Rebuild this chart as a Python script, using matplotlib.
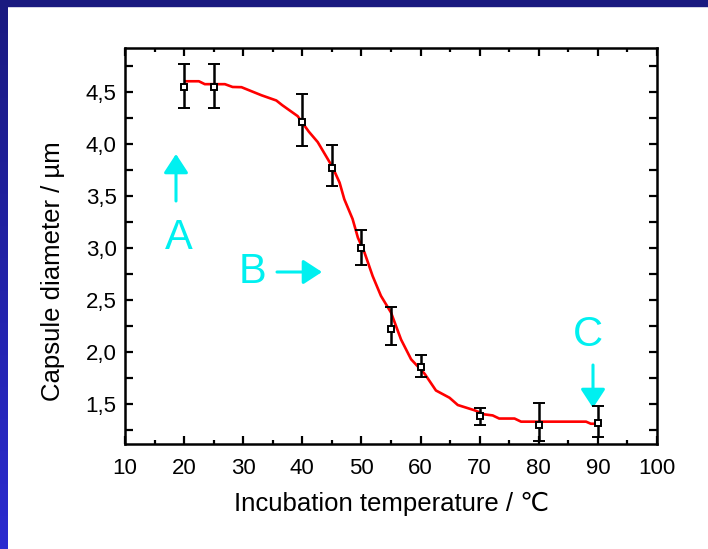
import numpy as np
import matplotlib
matplotlib.use("Agg")
import matplotlib.pyplot as plt
from matplotlib.patches import Rectangle
from matplotlib.colors import LinearSegmentedColormap

plt.rcParams['font.family'] = ['Liberation Sans', 'DejaVu Sans']

# measured points with error bars
temps = [20, 25, 40, 45, 50, 55, 60, 70, 80, 90]
diam = [4.55, 4.55, 4.215, 3.77, 3.00, 2.22, 1.86, 1.38, 1.30, 1.32]
diam_low = [4.344, 4.344, 3.986, 3.60, 2.84, 2.07, 1.76, 1.30, 1.14, 1.18]
diam_high = [4.775, 4.775, 4.478, 3.99, 3.17, 2.43, 1.97, 1.46, 1.51, 1.48]

# red fitted curve
curve_x = [20.3, 22.5, 23.5, 26.9, 28.2, 29.7, 33.1, 35.6, 36.6, 39.2, 41.1, 42.6,
           45.1, 46.3, 47.1, 48.5, 49.4, 50.5, 51.9, 53.3, 55.0, 56.7, 58.4, 60.7,
           62.6, 64.9, 66.3, 69.1, 70.8, 72.2, 73.3, 75.9, 77.0, 88.0, 88.8, 89.9]
curve_y = [4.605, 4.605, 4.577, 4.577, 4.55, 4.548, 4.47, 4.42, 4.375, 4.27, 4.12, 4.02,
           3.78, 3.63, 3.47, 3.28, 3.10, 2.96, 2.73, 2.54, 2.38, 2.12, 1.93, 1.79,
           1.63, 1.56, 1.49, 1.44, 1.40, 1.39, 1.36, 1.36, 1.33, 1.33, 1.31, 1.31]

xticks = [10, 20, 30, 40, 50, 60, 70, 80, 90, 100]
xtick_labels = ['10', '20', '30', '40', '50', '60', '70', '80', '90', '100']
yticks = [1.5, 2.0, 2.5, 3.0, 3.5, 4.0, 4.5]
ytick_labels = ['1,5', '2,0', '2,5', '3,0', '3,5', '4,0', '4,5']

W, H = 708, 549
fig = plt.figure(figsize=(W / 100, H / 100), dpi=100)
fig.patch.set_facecolor('white')

# blue frame strips
grad_ax = fig.add_axes([0, 0, 8 / W, 1])
grad = np.linspace(0, 1, 256).reshape(-1, 1)
cmap = LinearSegmentedColormap.from_list('bl', ['#2b2bd0', '#1a1a80'])
grad_ax.imshow(grad, aspect='auto', cmap=cmap, origin='lower', extent=[0, 1, 0, 1])
grad_ax.axis('off')
fig.patches.append(Rectangle((0, 1 - 6 / H), 1, 6 / H, transform=fig.transFigure,
                            color='#1a1a80', zorder=5))

ax = fig.add_axes([125 / W, 1 - 444 / H, (657 - 125) / W, (444 - 48) / H])
ax.plot(curve_x, curve_y, color='#ff0000', lw=1.9, zorder=3)
yerr = [np.array(diam) - np.array(diam_low), np.array(diam_high) - np.array(diam)]
ax.errorbar(temps, diam, yerr=yerr, fmt='s', ms=4.5, mfc='white', mec='black', mew=1.4,
            ecolor='black', elinewidth=1.8, capsize=4, capthick=1.8, zorder=4)

ax.set_xlim(10, 100)
ax.set_ylim(1.115, 4.925)
ax.set_xticks(xticks)
ax.set_xticklabels(xtick_labels)
ax.set_xticks(np.arange(15, 100, 10), minor=True)
ax.set_yticks(yticks)
ax.set_yticklabels(ytick_labels)
ax.set_yticks(np.arange(1.25, 4.8, 0.5), minor=True)
ax.tick_params(which='both', direction='in', top=True, right=True, width=1.6,
               labelsize=16, colors='black')
ax.tick_params(axis='x', which='major', length=6, pad=10)
ax.tick_params(axis='x', which='minor', length=3)
ax.tick_params(axis='y', which='both', length=6, pad=6)
for s in ax.spines.values():
    s.set_linewidth(1.8)

ax.set_xlabel('Incubation temperature / \u2103', fontsize=18.5)
ax.set_ylabel('Capsule diameter / \u00b5m', fontsize=18.5)
ax.xaxis.set_label_coords(0.5, -(504 - 444) / 396, transform=ax.transAxes)
ax.xaxis.label.set_va('center')
ax.yaxis.set_label_coords(-(125 - 53) / 532, (444 - 271) / 396, transform=ax.transAxes)
ax.yaxis.label.set_va('center')

cyan = '#00f0f0'
def px(x, y):
    return (x / W, 1 - y / H)

fig.text(*px(179, 249), 'A', color=cyan, fontsize=30, ha='center', va='baseline')
fig.text(*px(253, 283), 'B', color=cyan, fontsize=30, ha='center', va='baseline')
fig.text(*px(588, 346), 'C', color=cyan, fontsize=30, ha='center', va='baseline')
aprops = dict(arrowstyle='-|>,head_length=1.15,head_width=0.75', color=cyan, lw=2.2,
              shrinkA=0, shrinkB=0)
ax.annotate('', xy=px(176, 154), xytext=px(176, 201), xycoords='figure fraction',
            textcoords='figure fraction', arrowprops=aprops)
ax.annotate('', xy=px(322, 272), xytext=px(277, 272), xycoords='figure fraction',
            textcoords='figure fraction', arrowprops=aprops)
ax.annotate('', xy=px(593, 408), xytext=px(593, 365), xycoords='figure fraction',
            textcoords='figure fraction', arrowprops=aprops)

fig.savefig('out.png', dpi=100)
